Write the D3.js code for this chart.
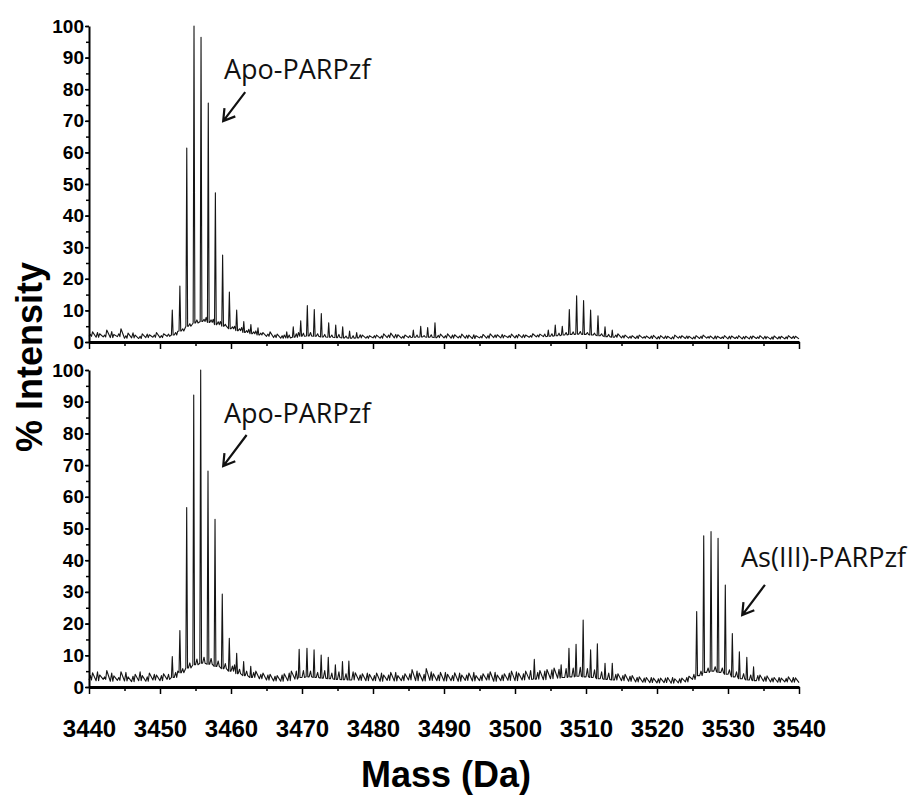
<!DOCTYPE html>
<html>
<head>
<meta charset="utf-8">
<script src="https://cdn.jsdelivr.net/npm/d3@7"></script>
<style>
    body { margin: 0; background: #fff; }
    svg { display: block; }
    .tick text { font-family: "Liberation Sans", Arial, sans-serif; font-weight: bold; fill: #000; }
    .domain, .tick line { stroke: #000; }
</style>
</head>
<body>
<svg id="canvas"></svg>
<script>
const MASS_START = 3440;
const MASS_END = 3540;
const X_TICKS = [3440, 3450, 3460, 3470, 3480, 3490, 3500, 3510, 3520, 3530, 3540];
const Y_TICKS = [0, 10, 20, 30, 40, 50, 60, 70, 80, 90, 100];

// valley level at every whole Da, 3440..3540
const TOP_FLOOR = [
    1.8, 1.5, 1.6, 1.4, 1.7, 1.2, 1.3, 1.1, 1.4, 1.5,
    1.4, 1.8, 2.2, 3.5, 5.0, 6.0, 6.5, 6.2, 5.5, 5.0,
    4.2, 3.6, 3.0, 2.6, 2.2, 1.8, 1.4, 1.2, 1.3, 1.5,
    1.8, 1.9, 1.8, 1.6, 1.5, 1.4, 1.3, 1.2, 1.3, 1.2,
    1.3, 1.2, 1.4, 1.3, 1.2, 1.4, 1.5, 1.6, 1.5, 1.4,
    1.3, 1.2, 1.3, 1.2, 1.1, 1.3, 1.2, 1.4, 1.3, 1.4,
    1.3, 1.4, 1.5, 1.6, 1.7, 1.8, 2.0, 2.2, 2.4, 2.5,
    2.4, 2.2, 2.0, 1.7, 1.5, 1.3, 1.2, 1.1, 1.2, 1.1,
    1.0, 1.1, 1.0, 1.2, 1.1, 1.0, 1.1, 1.2, 1.0, 1.1,
    1.0, 1.1, 1.0, 1.0, 1.1, 1.0, 0.9, 1.0, 1.0, 1.1, 1.0
];
// noise spikes at 3440.2..3539.2
const TOP_NOISE_A = [
    2.4, 3.0, 2.2, 3.3, 2.6, 2.0, 2.9, 1.8, 2.5, 2.2,
    2.0, 2.5, 3.0, 4.2, 5.8, 7.0, 7.2, 7.0, 6.4, 5.6,
    4.8, 4.2, 3.6, 3.2, 2.8, 2.5, 2.2, 2.0, 2.2, 2.6,
    2.8, 3.0, 2.6, 2.4, 2.2, 2.4, 1.9, 2.0, 2.3, 1.8,
    2.0, 1.9, 2.2, 2.4, 1.8, 2.0, 2.2, 2.0, 2.3, 2.1,
    2.0, 2.2, 1.9, 2.1, 2.3, 1.8, 2.0, 2.2, 2.4, 2.0,
    2.1, 2.3, 2.0, 2.2, 2.5, 2.6, 2.8, 3.0, 3.2, 3.3,
    3.0, 2.8, 2.6, 2.4, 2.2, 2.0, 1.8, 1.9, 1.7, 1.9,
    1.7, 1.9, 1.6, 1.8, 1.9, 1.6, 1.8, 1.7, 1.9, 1.6,
    1.8, 1.6, 1.7, 1.8, 1.6, 1.8, 1.6, 1.7, 1.6, 1.8
];
// noise spikes at 3440.5..3539.5
const TOP_NOISE_B = [
    3.2, 2.6, 3.8, 2.4, 4.2, 2.8, 2.2, 2.6, 2.3, 3.0,
    2.6, 3.0, 3.4, 4.5, 6.5, 7.5, 7.8, 7.2, 6.5, 6.0,
    5.0, 4.6, 4.0, 3.5, 3.0, 3.2, 2.5, 2.2, 2.6, 3.0,
    3.0, 2.8, 3.2, 3.0, 2.6, 2.2, 2.0, 2.4, 2.2, 2.0,
    2.2, 2.6, 2.8, 2.3, 2.2, 2.5, 2.4, 2.6, 2.8, 2.5,
    2.6, 2.3, 2.5, 2.2, 2.0, 2.4, 2.6, 2.3, 2.1, 2.5,
    2.4, 2.2, 2.6, 2.5, 2.8, 3.0, 3.2, 3.4, 3.6, 3.5,
    3.4, 3.2, 3.0, 2.8, 2.6, 2.2, 2.0, 2.2, 1.9, 2.1,
    2.0, 1.8, 2.2, 2.0, 1.8, 2.0, 2.2, 1.9, 1.8, 2.0,
    1.9, 2.0, 1.8, 1.9, 2.0, 1.7, 1.9, 1.8, 2.0, 1.8
];
// isotope peaks [mass, % intensity]
const TOP_PEAKS = [
    [3451.73, 10.1], [3452.80, 17.7], [3453.77, 61.4], [3454.79, 100], [3455.78, 96.4],
    [3456.80, 75.6], [3457.80, 47.2], [3458.82, 27.5], [3459.77, 15.8], [3460.80, 10.1],
    [3461.80, 6.5], [3462.80, 5.5], [3463.80, 4.5],
    [3467.85, 3.2], [3468.77, 4.8], [3469.82, 6.7], [3470.75, 11.5], [3471.73, 10.3],
    [3472.72, 9.0], [3473.76, 6.1], [3474.75, 5.4], [3475.73, 4.8], [3476.70, 3.5], [3477.70, 3.0],
    [3485.68, 3.8], [3486.72, 5.0], [3487.70, 4.6], [3488.73, 6.1],
    [3504.69, 3.8], [3505.67, 5.4], [3506.66, 5.0], [3507.65, 10.3], [3508.68, 14.6],
    [3509.66, 13.1], [3510.65, 10.1], [3511.69, 8.3], [3512.68, 4.8], [3513.70, 3.8]
];

const BOTTOM_FLOOR = [
    2.2, 2.0, 2.4, 1.8, 2.1, 1.9, 1.7, 2.0, 1.8, 2.2,
    2.0, 2.4, 3.0, 4.5, 6.0, 7.0, 7.5, 7.2, 6.5, 5.8,
    5.0, 4.2, 3.6, 3.0, 2.6, 2.2, 1.9, 1.8, 2.0, 2.5,
    3.0, 3.2, 3.0, 2.8, 2.6, 2.4, 2.3, 2.2, 2.1, 2.0,
    2.0, 1.8, 2.1, 1.9, 2.0, 2.2, 2.0, 1.9, 2.1, 2.0,
    1.9, 2.0, 1.8, 2.1, 1.9, 2.0, 2.2, 1.8, 2.0, 2.1,
    2.0, 2.2, 2.4, 2.5, 2.3, 2.6, 2.8, 3.0, 3.2, 3.4,
    3.2, 3.0, 2.6, 2.4, 2.2, 2.0, 1.8, 1.6, 1.5, 1.4,
    1.3, 1.4, 1.2, 1.3, 1.6, 2.4, 3.6, 4.6, 5.0, 4.6,
    4.0, 3.2, 2.6, 2.2, 2.0, 1.8, 1.6, 1.5, 1.6, 1.5, 1.4
];
const BOTTOM_NOISE_A = [
    3.6, 4.8, 3.2, 4.4, 3.0, 4.6, 3.4, 4.8, 3.2, 4.0,
    3.6, 4.0, 4.6, 5.8, 7.6, 8.8, 9.4, 9.0, 8.2, 7.4,
    6.6, 5.6, 5.0, 4.6, 4.0, 3.8, 3.4, 3.8, 4.4, 5.0,
    5.2, 5.0, 4.6, 5.2, 4.4, 4.8, 4.2, 4.8, 3.8, 4.4,
    3.6, 4.4, 3.8, 4.6, 3.6, 4.2, 5.0, 4.0, 4.8, 3.8,
    4.6, 3.6, 4.4, 3.8, 4.6, 3.6, 4.2, 4.6, 3.8, 4.4,
    4.8, 4.2, 5.2, 4.6, 5.0, 5.4, 5.6, 5.8, 6.0, 6.2,
    5.8, 5.4, 4.8, 4.4, 4.0, 3.6, 3.4, 3.0, 2.8, 3.0,
    2.6, 2.8, 3.0, 2.6, 3.0, 4.0, 5.0, 6.0, 6.4, 6.0,
    5.4, 4.8, 4.2, 3.8, 3.6, 3.2, 2.8, 3.0, 2.7, 3.0
];
const BOTTOM_NOISE_B = [
    4.5, 3.8, 5.2, 3.5, 4.8, 3.2, 4.0, 3.6, 4.4, 3.8,
    4.2, 4.6, 5.0, 6.5, 8.5, 9.5, 9.8, 9.2, 8.6, 8.0,
    7.0, 6.0, 5.5, 5.0, 4.4, 4.0, 3.6, 4.2, 5.0, 5.4,
    5.5, 5.8, 5.2, 4.8, 5.0, 4.6, 5.2, 4.5, 4.2, 4.0,
    4.4, 3.8, 4.6, 3.6, 4.2, 5.5, 4.4, 5.8, 4.2, 4.6,
    4.0, 4.5, 3.8, 4.4, 3.6, 4.2, 4.8, 3.8, 4.2, 5.0,
    4.4, 5.0, 4.6, 5.2, 5.5, 6.0, 6.0, 6.2, 6.4, 6.6,
    6.2, 5.8, 5.2, 4.6, 4.2, 4.0, 3.6, 3.2, 3.0, 2.8,
    2.8, 3.0, 2.6, 2.8, 3.4, 4.5, 5.5, 6.5, 7.0, 6.4,
    5.8, 5.0, 4.5, 4.2, 3.8, 3.5, 3.0, 2.8, 3.2, 2.9
];
const BOTTOM_PEAKS = [
    [3451.73, 9.6], [3452.80, 17.8], [3453.76, 56.6], [3454.75, 92.1], [3455.73, 100],
    [3456.76, 68.1], [3457.75, 52.9], [3458.77, 29.3], [3459.76, 15.4], [3460.80, 10.6],
    [3461.78, 8.0], [3462.78, 6.5],
    [3469.60, 11.9], [3470.70, 12.2], [3471.70, 11.7], [3472.70, 10.1], [3473.70, 9.4],
    [3474.70, 7.0], [3475.70, 8.0], [3476.60, 8.2],
    [3502.72, 8.7], [3506.50, 7.0], [3507.60, 12.2], [3508.60, 13.5], [3509.60, 21.1],
    [3510.65, 11.7], [3511.60, 13.6], [3512.68, 7.5], [3513.70, 7.5],
    [3525.59, 23.8], [3526.58, 47.7], [3527.61, 49.0], [3528.60, 46.9], [3529.62, 32.2],
    [3530.61, 16.9], [3531.60, 11.1], [3532.65, 9.4], [3533.60, 6.4]
];

const width = 912;
const height = 801;

const canvas = d3.select("#canvas")
    .attr("width", width)
    .attr("height", height);

const xScale = d3.scaleLinear()
    .domain([MASS_START, MASS_END])
    .range([89, 799]);

// arrows are [tail mass, tail %, head mass, head %]
const panels = [
    { floor: TOP_FLOOR, noiseA: TOP_NOISE_A, noiseB: TOP_NOISE_B, peaks: TOP_PEAKS, top: 26, bottom: 342,
      labels: [{ text: "Apo-PARPzf", x: 224, y: 79, arrow: [3462.0, 79.1, 3458.9, 69.9] }] },
    { floor: BOTTOM_FLOOR, noiseA: BOTTOM_NOISE_A, noiseB: BOTTOM_NOISE_B, peaks: BOTTOM_PEAKS, top: 370, bottom: 687,
      labels: [{ text: "Apo-PARPzf", x: 224, y: 423, arrow: [3462.2, 79.5, 3458.9, 69.7] },
               { text: "As(III)-PARPzf", x: 741, y: 567, arrow: [3535.2, 32.2, 3532.0, 22.7] }] }
];

//Turns valleys, noise and peaks into one sorted list of trace vertices
function buildTrace(floor, noiseA, noiseB, peaks) {
    const nearPeak = m => peaks.some(p => Math.abs(p[0] - m) < 0.3);
    const pts = floor.map((v, i) => [MASS_START + i, v]);
    noiseA.forEach((v, i) => {
        const m = MASS_START + i + 0.2;
        if (!nearPeak(m)) pts.push([m, v], [m + 0.15, floor[i]]);
    });
    noiseB.forEach((v, i) => {
        const m = MASS_START + i + 0.5;
        if (!nearPeak(m)) pts.push([m, v]);
    });
    peaks.forEach(p => {
        const base = floor[Math.round(p[0] - MASS_START)];
        pts.push([p[0] - 0.12, base], [p[0], p[1]], [p[0] + 0.12, base]);
    });
    return pts.sort((a, b) => a[0] - b[0]);
}

panels.forEach((panel, idx) => {
    const yScale = d3.scaleLinear()
        .domain([0, 100])
        .range([panel.bottom, panel.top]);

    const line = d3.line()
        .x(d => xScale(d[0]))
        .y(d => yScale(d[1]));

    //Spectrum trace
    canvas.append("path")
        .datum(buildTrace(panel.floor, panel.noiseA, panel.noiseB, panel.peaks))
        .attr("d", line)
        .attr("fill", "none")
        .attr("stroke", "#151515")
        .attr("stroke-width", 1.1)
        .attr("stroke-linejoin", "round");

    //Y axis, minor then major ticks
    canvas.append("g")
        .attr("transform", `translate(89, 0)`)
        .call(d3.axisLeft(yScale).tickValues(d3.range(0, 101, 5)).tickSize(3).tickFormat(""))
        .call(g => g.select(".domain").remove())
        .selectAll("line").attr("stroke-width", 1.5);
    const yAxis = canvas.append("g")
        .attr("transform", `translate(89, 0)`)
        .call(d3.axisLeft(yScale).tickValues(Y_TICKS).tickSize(4).tickPadding(1).tickSizeOuter(0));
    yAxis.select(".domain").attr("stroke-width", 2);
    yAxis.selectAll("line").attr("stroke-width", 1.5);
    yAxis.selectAll("text").style("font-size", "19px");

    //X axis
    canvas.append("g")
        .attr("transform", `translate(0, ${panel.bottom})`)
        .call(d3.axisBottom(xScale).tickValues(d3.range(3445, 3540, 10)).tickSize(4).tickFormat(""))
        .call(g => g.select(".domain").remove())
        .selectAll("line").attr("stroke-width", 1.5);
    const xAxis = canvas.append("g")
        .attr("transform", `translate(0, ${panel.bottom})`)
        .call(d3.axisBottom(xScale).tickValues(X_TICKS).tickSize(7).tickPadding(26)
            .tickSizeOuter(0).tickFormat(d3.format("d")));
    xAxis.select(".domain").attr("stroke-width", 3);
    xAxis.selectAll("line").attr("stroke-width", 1.5);
    if (idx === 0) xAxis.selectAll("text").remove();
    else xAxis.selectAll("text").style("font-size", "24px");

    //Annotations with arrows
    panel.labels.forEach(l => {
        canvas.append("text")
            .attr("x", l.x)
            .attr("y", l.y)
            .attr("font-family", "Open Sans, sans-serif")
            .attr("font-size", 27)
            .attr("fill", "#111")
            .text(l.text);

        const x1 = xScale(l.arrow[0]), y1 = yScale(l.arrow[1]);
        const x2 = xScale(l.arrow[2]), y2 = yScale(l.arrow[3]);
        const ang = Math.atan2(y1 - y2, x1 - x2);
        const head = 13;
        canvas.append("path")
            .attr("d", `M${x1},${y1}L${x2},${y2}` +
                `M${x2 + head * Math.cos(ang - 0.55)},${y2 + head * Math.sin(ang - 0.55)}L${x2},${y2}` +
                `L${x2 + head * Math.cos(ang + 0.55)},${y2 + head * Math.sin(ang + 0.55)}`)
            .attr("fill", "none")
            .attr("stroke", "#111")
            .attr("stroke-width", 2.2);
    });
});

//Axis titles
canvas.append("text")
    .attr("transform", `translate(42, 357) rotate(-90)`)
    .attr("text-anchor", "middle")
    .attr("font-family", "Liberation Sans, Arial, sans-serif")
    .attr("font-weight", "bold")
    .attr("font-size", 36)
    .text("% Intensity");

canvas.append("text")
    .attr("x", 446)
    .attr("y", 787)
    .attr("text-anchor", "middle")
    .attr("font-family", "Liberation Sans, Arial, sans-serif")
    .attr("font-weight", "bold")
    .attr("font-size", 36)
    .text("Mass (Da)");
</script>
</body>
</html>
